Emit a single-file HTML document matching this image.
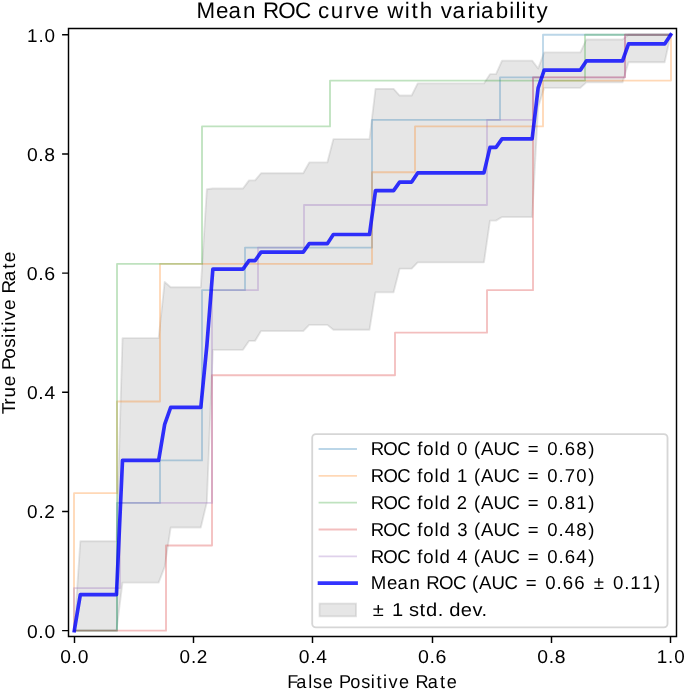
<!DOCTYPE html>
<html><head><meta charset="utf-8"><title>Mean ROC curve with variability</title><style>
html,body{margin:0;padding:0;background:#fff;}
body{width:685px;height:690px;overflow:hidden;}
svg{display:block;}
text{font-family:"Liberation Sans",sans-serif;fill:#000;white-space:pre;text-rendering:geometricPrecision;filter:opacity(1);}
</style></head><body>
<svg width="685" height="690" viewBox="0 0 685 690">
<rect x="0" y="0" width="685" height="690" fill="#fff"/>
<defs><clipPath id="ax"><rect x="68.34" y="28.4" width="608.32" height="607.8"/></clipPath></defs>
<g clip-path="url(#ax)">
<path d="M74.3 630.64 L80.33 541.27 L86.35 541.27 L92.38 541.27 L98.4 541.27 L104.42 541.27 L110.45 541.27 L116.47 541.27 L122.5 338.18 L128.52 338.18 L134.55 338.18 L140.57 338.18 L146.59 338.18 L152.62 338.18 L158.64 338.18 L164.67 281.9 L170.69 287.21 L176.71 287.21 L182.74 287.21 L188.76 287.21 L194.79 287.21 L200.81 287.21 L206.84 189.27 L212.86 188.52 L218.88 188.52 L224.91 188.52 L230.93 188.52 L236.96 188.52 L242.98 188.52 L249 180.42 L255.03 180.42 L261.05 173.24 L267.08 173.24 L273.1 173.24 L279.13 173.24 L285.15 173.24 L291.17 173.24 L297.2 173.24 L303.22 173.24 L309.25 162.43 L315.27 162.43 L321.29 162.43 L327.32 162.43 L333.34 139.18 L339.37 139.18 L345.39 139.18 L351.42 139.18 L357.44 139.18 L363.46 139.18 L369.49 139.18 L375.51 88.87 L381.54 88.87 L387.56 88.87 L393.58 88.87 L399.61 95.52 L405.63 95.52 L411.66 95.52 L417.68 83.42 L423.71 83.42 L429.73 83.42 L435.75 83.42 L441.78 83.42 L447.8 83.42 L453.83 83.42 L459.85 83.42 L465.87 83.42 L471.9 83.42 L477.92 83.42 L483.95 83.42 L489.97 74.19 L496 74.19 L502.02 60.67 L508.04 60.67 L514.07 60.67 L520.09 60.67 L526.12 60.67 L532.14 60.67 L538.16 68.44 L544.19 52.38 L550.21 52.38 L556.24 52.38 L562.26 52.38 L568.29 52.38 L574.31 52.38 L580.33 52.38 L586.36 39.53 L592.38 39.53 L598.41 39.53 L604.43 39.53 L610.45 39.53 L616.48 39.53 L622.5 39.53 L628.53 34.76 L634.55 34.76 L640.58 34.76 L646.6 34.76 L652.62 34.76 L658.65 34.76 L664.67 34.76 L670.7 34.76 L670.7 34.76 L664.67 62.26 L658.65 62.26 L652.62 62.26 L646.6 62.26 L640.58 62.26 L634.55 62.26 L628.53 62.26 L622.5 82.37 L616.48 82.37 L610.45 82.37 L604.43 82.37 L598.41 82.37 L592.38 82.37 L586.36 82.37 L580.33 87.86 L574.31 87.86 L568.29 87.86 L562.26 87.86 L556.24 87.86 L550.21 87.86 L544.19 87.86 L538.16 107.16 L532.14 217.08 L526.12 217.08 L520.09 217.08 L514.07 217.08 L508.04 217.08 L502.02 217.08 L496 220.59 L489.97 220.59 L483.95 262.43 L477.92 262.43 L471.9 262.43 L465.87 262.43 L459.85 262.43 L453.83 262.43 L447.8 262.43 L441.78 262.43 L435.75 262.43 L429.73 262.43 L423.71 262.43 L417.68 262.43 L411.66 268.67 L405.63 268.67 L399.61 268.67 L393.58 292.34 L387.56 292.34 L381.54 292.34 L375.51 292.34 L369.49 329.78 L363.46 329.78 L357.44 329.78 L351.42 329.78 L345.39 329.78 L339.37 329.78 L333.34 329.78 L327.32 324.86 L321.29 324.86 L315.27 324.86 L309.25 324.86 L303.22 331.08 L297.2 331.08 L291.17 331.08 L285.15 331.08 L279.13 331.08 L273.1 331.08 L267.08 331.08 L261.05 331.08 L255.03 340.92 L249 340.92 L242.98 349.85 L236.96 349.85 L230.93 349.85 L224.91 349.85 L218.88 349.85 L212.86 349.85 L206.84 502.32 L200.81 527.49 L194.79 527.49 L188.76 527.49 L182.74 527.49 L176.71 527.49 L170.69 527.49 L164.67 566.85 L158.64 582.6 L152.62 582.6 L146.59 582.6 L140.57 582.6 L134.55 582.6 L128.52 582.6 L122.5 582.6 L116.47 630.64 L110.45 630.64 L104.42 630.64 L98.4 630.64 L92.38 630.64 L86.35 630.64 L80.33 630.64 L74.3 630.64Z" fill="#808080" fill-opacity="0.2" stroke="#808080" stroke-opacity="0.2" stroke-width="1.83" stroke-linejoin="round"/>
<path d="M74 630.64 L117 630.64 L117 502.95 L160 502.95 L160 460.39 L202 460.39 L202 290.14 L245 290.14 L245 247.57 L372 247.57 L372 119.88 L500 119.88 L500 77.32 L543 77.32 L543 34.76 L671 34.76" fill="none" stroke="#1f77b4" stroke-opacity="0.3" stroke-width="1.83" stroke-linecap="square" stroke-linejoin="round"/>
<path d="M74 630.64 L74 493.13 L117 493.13 L117 401.46 L160 401.46 L160 263.94 L372 263.94 L372 172.27 L415 172.27 L415 126.43 L543 126.43 L543 80.6 L671 80.6 L671 34.76" fill="none" stroke="#ff7f0e" stroke-opacity="0.3" stroke-width="1.83" stroke-linecap="square" stroke-linejoin="round"/>
<path d="M74 630.64 L117 630.64 L117 263.94 L202 263.94 L202 126.43 L330 126.43 L330 80.6 L585 80.6 L585 34.76 L671 34.76" fill="none" stroke="#2ca02c" stroke-opacity="0.3" stroke-width="1.83" stroke-linecap="square" stroke-linejoin="round"/>
<path d="M74 630.64 L166 630.64 L166 545.52 L212 545.52 L212 375.26 L395 375.26 L395 332.7 L487 332.7 L487 290.14 L533 290.14 L533 77.32 L625 77.32 L625 34.76 L671 34.76" fill="none" stroke="#d62728" stroke-opacity="0.3" stroke-width="1.83" stroke-linecap="square" stroke-linejoin="round"/>
<path d="M74 630.64 L74 588.08 L120 588.08 L120 502.95 L212 502.95 L212 290.14 L258 290.14 L258 247.57 L304 247.57 L304 205.01 L487 205.01 L487 119.88 L533 119.88 L533 77.32 L625 77.32 L625 34.76 L671 34.76" fill="none" stroke="#9467bd" stroke-opacity="0.3" stroke-width="1.83" stroke-linecap="square" stroke-linejoin="round"/>
<path d="M74.3 630.64 L80.33 594.63 L86.35 594.63 L92.38 594.63 L98.4 594.63 L104.42 594.63 L110.45 594.63 L116.47 594.63 L122.5 460.39 L128.52 460.39 L134.55 460.39 L140.57 460.39 L146.59 460.39 L152.62 460.39 L158.64 460.39 L164.67 424.37 L170.69 407.35 L176.71 407.35 L182.74 407.35 L188.76 407.35 L194.79 407.35 L200.81 407.35 L206.84 345.8 L212.86 269.18 L218.88 269.18 L224.91 269.18 L230.93 269.18 L236.96 269.18 L242.98 269.18 L249 260.67 L255.03 260.67 L261.05 252.16 L267.08 252.16 L273.1 252.16 L279.13 252.16 L285.15 252.16 L291.17 252.16 L297.2 252.16 L303.22 252.16 L309.25 243.65 L315.27 243.65 L321.29 243.65 L327.32 243.65 L333.34 234.48 L339.37 234.48 L345.39 234.48 L351.42 234.48 L357.44 234.48 L363.46 234.48 L369.49 234.48 L375.51 190.6 L381.54 190.6 L387.56 190.6 L393.58 190.6 L399.61 182.09 L405.63 182.09 L411.66 182.09 L417.68 172.92 L423.71 172.92 L429.73 172.92 L435.75 172.92 L441.78 172.92 L447.8 172.92 L453.83 172.92 L459.85 172.92 L465.87 172.92 L471.9 172.92 L477.92 172.92 L483.95 172.92 L489.97 147.39 L496 147.39 L502.02 138.87 L508.04 138.87 L514.07 138.87 L520.09 138.87 L526.12 138.87 L532.14 138.87 L538.16 87.8 L544.19 70.12 L550.21 70.12 L556.24 70.12 L562.26 70.12 L568.29 70.12 L574.31 70.12 L580.33 70.12 L586.36 60.95 L592.38 60.95 L598.41 60.95 L604.43 60.95 L610.45 60.95 L616.48 60.95 L622.5 60.95 L628.53 43.93 L634.55 43.93 L640.58 43.93 L646.6 43.93 L652.62 43.93 L658.65 43.93 L664.67 43.93 L670.7 34.76" fill="none" stroke="#0000ff" stroke-opacity="0.8" stroke-width="3.66" stroke-linecap="square" stroke-linejoin="round"/>
</g>
<path d="M68.5 636.5 L68.5 28.5 M676.5 636.5 L676.5 28.5 M68.5 636.5 L676.5 636.5 M68.5 28.5 L676.5 28.5" stroke="#000" stroke-width="1.46" stroke-linecap="square" fill="none"/>
<path d="M74.5 636.5 L74.5 642.9 M68.5 630.64 L62.1 630.64 M193.5 636.5 L193.5 642.9 M68.5 511.46 L62.1 511.46 M312.5 636.5 L312.5 642.9 M68.5 392.29 L62.1 392.29 M432.5 636.5 L432.5 642.9 M68.5 273.11 L62.1 273.11 M551.5 636.5 L551.5 642.9 M68.5 153.94 L62.1 153.94 M670.5 636.5 L670.5 642.9 M68.5 34.76 L62.1 34.76" stroke="#000" stroke-width="1.46" fill="none"/>
<text transform="translate(372.5 17.83) scale(1.0002 1)" x="-175.92 -156.58 -143.97 -129.44 -115.94 -109.44 -94.18 -77.39 -61.16 -54.39 -41.83 -27.39 -18.7 -6.05 7.25 14.72 32.35 39 47.21 60.74 68.23 79.99 94.97 103.33 108.54 123.17 136.78 142.86 148.97 155.62 163.98" y="0" font-size="22.37">Mean ROC curve with variability</text>
<text transform="translate(74.3 663.28) scale(1.0340 1)" x="-13.62 -2.6 3.24" y="0" font-size="18.64">0.0</text>
<text transform="translate(55.55 637.59) scale(1.0340 1)" x="-27.68 -16.65 -10.81" y="0" font-size="18.64">0.0</text>
<text transform="translate(193.58 663.28) scale(1.0166 1)" x="-13.77 -2.6 3.15" y="0" font-size="18.64">0.2</text>
<text transform="translate(55.55 518.41) scale(1.0166 1)" x="-28.06 -16.89 -11.15" y="0" font-size="18.64">0.2</text>
<text transform="translate(312.86 663.28) scale(1.0340 1)" x="-13.62 -2.6 3.24" y="0" font-size="18.64">0.4</text>
<text transform="translate(55.55 399.23) scale(1.0340 1)" x="-27.68 -16.65 -10.81" y="0" font-size="18.64">0.4</text>
<text transform="translate(432.14 663.28) scale(1.0511 1)" x="-13.48 -2.6 3.11" y="0" font-size="18.64">0.6</text>
<text transform="translate(55.55 280.06) scale(1.0511 1)" x="-27.31 -16.43 -10.72" y="0" font-size="18.64">0.6</text>
<text transform="translate(551.42 663.28) scale(1.0394 1)" x="-13.58 -2.6 3.2" y="0" font-size="18.64">0.8</text>
<text transform="translate(55.55 160.88) scale(1.0394 1)" x="-27.56 -16.58 -10.78" y="0" font-size="18.64">0.8</text>
<text transform="translate(670.7 663.28) scale(1.0137 1)" x="-13.88 -2.6 3.41" y="0" font-size="18.64">1.0</text>
<text transform="translate(55.55 41.7) scale(1.0137 1)" x="-28.22 -16.94 -10.92" y="0" font-size="18.64">1.0</text>
<text transform="translate(372.5 688.28) scale(0.9738 1)" x="-87.53 -78.25 -66.09 -61.06 -51.01 -39.7 -34.35 -22.92 -11.64 -1.68 4.04 10.9 16.46 27.3 38.61 44.29 56.69 69.35 76.29" y="0" font-size="18.64">False Positive Rate</text>
<text transform="translate(15.37 332.7) rotate(-90) scale(1.0168 1)" x="-80.25 -70.78 -63.85 -52.55 -41.61 -36.66 -25.65 -14.83 -5.17 0.27 6.87 12.09 22.45 33.39 38.64 50.58 62.83 69.37" y="0" font-size="18.64">True Positive Rate</text>
<g opacity="0.8"><rect x="312.2" y="434.18" width="355.32" height="193.28" rx="3.66" ry="3.66" fill="#fff" stroke="#ccc" stroke-width="1.83"/></g>
<path d="M319.51 448.98 L356.07 448.98" stroke="#1f77b4" stroke-opacity="0.3" stroke-width="1.83" stroke-linecap="square"/>
<text transform="translate(370.69 455.38) scale(0.9990 1)" x="-0.07 12.67 26.67 40.21 46.57 52.56 63.81 68.93 80.36 86.49 97.81 103.31 110.48 122.93 135.91 149.45 157.17 170.6 176.73 188.04 194.19 205.82 217.77" y="0" font-size="18.64">ROC fold 0 (AUC = 0.68)</text>
<path d="M319.51 475.81 L356.07 475.81" stroke="#ff7f0e" stroke-opacity="0.3" stroke-width="1.83" stroke-linecap="square"/>
<text transform="translate(370.69 482.21) scale(0.9930 1)" x="-0.03 12.79 26.87 40.47 46.87 52.91 64.21 69.38 80.86 86.95 98.42 103.95 111.19 123.72 136.78 150.37 158.16 171.65 177.83 189.2 195.36 207.1 219.1" y="0" font-size="18.64">ROC fold 1 (AUC = 0.70)</text>
<path d="M319.51 502.64 L356.07 502.64" stroke="#2ca02c" stroke-opacity="0.3" stroke-width="1.83" stroke-linecap="square"/>
<text transform="translate(370.69 509.04) scale(0.9927 1)" x="-0.03 12.79 26.88 40.48 46.89 52.93 64.23 69.4 80.88 86.82 98.44 103.98 111.22 123.75 136.81 150.41 158.2 171.69 177.87 189.24 195.44 207.06 219.15" y="0" font-size="18.64">ROC fold 2 (AUC = 0.81)</text>
<path d="M319.51 529.47 L356.07 529.47" stroke="#d62728" stroke-opacity="0.3" stroke-width="1.83" stroke-linecap="square"/>
<text transform="translate(370.69 535.86) scale(0.9953 1)" x="-0.05 12.74 26.79 40.37 46.76 52.78 64.06 69.21 80.67 86.85 98.19 103.7 110.92 123.41 136.44 150.02 157.78 171.24 177.4 188.75 194.92 206.61 218.59" y="0" font-size="18.64">ROC fold 3 (AUC = 0.48)</text>
<path d="M319.51 556.29 L356.07 556.29" stroke="#9467bd" stroke-opacity="0.3" stroke-width="1.83" stroke-linecap="square"/>
<text transform="translate(370.69 562.69) scale(0.9989 1)" x="-0.07 12.67 26.67 40.21 46.58 52.57 63.82 68.94 80.36 86.49 97.82 103.31 110.49 122.94 135.92 149.46 157.19 170.61 176.74 188.06 194.2 205.84 217.79" y="0" font-size="18.64">ROC fold 4 (AUC = 0.64)</text>
<path d="M319.51 583.12 L356.07 583.12" stroke="#0000ff" stroke-opacity="0.8" stroke-width="3.66" stroke-linecap="square"/>
<text transform="translate(370.69 588.78) scale(0.9996 1)" x="0.13 16.25 26.77 38.88 50.14 55.56 68.29 82.28 95.82 101.3 108.48 120.91 133.89 147.42 155.14 168.56 174.68 185.99 192.13 203.76 215.08 223.12 236.22 242.34 253.65 259.7 271.33 283.36" y="0" font-size="18.64">Mean ROC (AUC = 0.66 ± 0.11)</text>
<rect x="319.51" y="603.55" width="36.56" height="12.79" fill="#808080" fill-opacity="0.2" stroke="#808080" stroke-opacity="0.2" stroke-width="1.83"/>
<text transform="translate(370.69 615.61) scale(1.0788 1)" x="1.98 14.3 19.68 30.46 35.62 45.26 51.32 62.07 67.46 72.84 83.56 94.27 102.73" y="0" font-size="18.64">± 1 std. dev.</text>
</svg>
</body></html>
